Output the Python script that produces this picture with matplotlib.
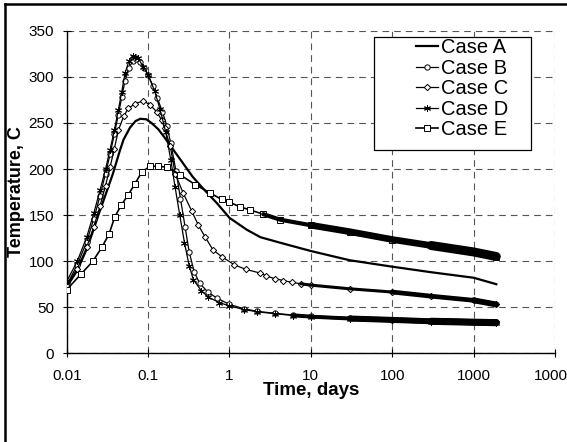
import matplotlib.pyplot as plt
from matplotlib.lines import Line2D
from matplotlib.patches import Rectangle
import numpy as np

plt.rcParams['font.family'] = ['Liberation Sans', 'DejaVu Sans']

# time in days, temperature in C
time_a = [0.01, 0.0135, 0.018, 0.0245, 0.03, 0.037, 0.045, 0.05, 0.06, 0.07, 0.08,
          0.095, 0.11, 0.134, 0.16, 0.2, 0.27, 0.35, 0.45, 0.7, 1.0, 1.64, 2.4, 4.2,
          10, 30, 100, 300, 1000, 1900]
temp_a = [72, 90, 115, 150, 172, 195, 220, 232, 245, 252, 254.5,
          254, 250, 243, 234, 222, 206, 192, 181, 163, 147, 134, 126, 120,
          111, 101, 94, 88, 82, 75]

time_b = [0.01, 0.0135, 0.0176, 0.0215, 0.0257, 0.03, 0.0341, 0.0385, 0.0431, 0.0475,
          0.0521, 0.058, 0.065, 0.072, 0.08, 0.09, 0.1, 0.115, 0.13, 0.15, 0.17, 0.19,
          0.22, 0.25, 0.285, 0.32, 0.37, 0.43, 0.55, 0.7, 1.0, 1.5, 2.2, 3.6, 6,
          10, 30, 100, 300, 1000, 1900]
temp_b = [74, 96, 121, 146, 171, 195, 216, 238, 259, 278,
          296, 310, 317, 319, 316, 310, 302, 290, 277, 262, 247, 228,
          198, 168, 137, 110, 88, 76, 66, 60, 53, 48.5, 45.5, 43.5, 41.5,
          40, 38, 36.5, 35, 34, 33.5]

time_c = [0.01, 0.0135, 0.0176, 0.0215, 0.0257, 0.03, 0.0341, 0.0385, 0.0431, 0.05,
          0.0573, 0.07, 0.0875, 0.106, 0.128, 0.147, 0.16, 0.187, 0.215, 0.27, 0.345,
          0.415, 0.5, 0.63, 0.8, 1.15, 1.6, 2.4, 2.83, 3.6, 4.6, 5.8, 7.5,
          10, 30, 100, 300, 1000, 1900]
temp_c = [73, 92, 115, 137, 160, 182, 202, 222, 242, 257,
          266, 271, 274, 269.5, 262, 253, 244, 225, 195, 174, 154,
          139, 126.5, 112, 105, 96, 91, 87, 84, 81, 79, 77, 75.5,
          74, 70, 66.5, 62, 57.5, 53]

time_d = [0.01, 0.0135, 0.0176, 0.0215, 0.0257, 0.03, 0.0341, 0.0385, 0.0431, 0.0475,
          0.0521, 0.058, 0.0648, 0.07, 0.076, 0.087, 0.1, 0.12, 0.14, 0.165, 0.19,
          0.215, 0.245, 0.28, 0.32, 0.36, 0.45, 0.55, 0.75, 1.0, 1.5, 2.2, 3.6, 6,
          10, 30, 100, 300, 1000, 1900]
temp_d = [78, 100, 126, 152, 177, 200, 221, 242, 264, 284,
          304, 317, 323, 322, 320, 311, 302, 285, 265, 240, 210,
          180, 150, 120, 95, 80, 68, 61, 55, 51.5, 47.5, 45, 43, 41,
          39.5, 37.5, 36, 34.5, 33.5, 33]

time_e = [0.01, 0.015, 0.021, 0.027, 0.033, 0.039, 0.047, 0.057, 0.069, 0.084,
          0.106, 0.134, 0.17, 0.25, 0.38, 0.58, 0.8, 1.0, 1.34, 1.8, 2.6, 4.2,
          10, 30, 100, 300, 1000, 1900]
temp_e = [69, 86, 100, 115, 129, 148, 161, 172, 184, 197,
          203, 203, 202, 193.5, 183, 174, 167, 164, 159, 155.5, 151, 145,
          139, 132, 123.5, 117, 110, 105]

x_ticks = [0.01, 0.1, 1, 10, 100, 1000, 10000]
x_tick_labels = ['0.01', '0.1', '1', '10', '100', '1000', '10000']
y_ticks = [0, 50, 100, 150, 200, 250, 300, 350]

W, H = 567, 442
fig = plt.figure(figsize=(W / 100, H / 100), dpi=100)
ax = fig.add_axes([66.7 / W, 1 - 353.3 / H, (555 - 66.7) / W, (353.3 - 30.8) / H])

ax.plot(time_a, temp_a, color='black', lw=1.6, label='Case A', zorder=3)

# marked cases: label, t, T, marker, marker size, line width,
# and (start time, width) steps of the band the dense late markers form
marked = [
    ('Case B', time_b, temp_b, 'o', 3.8, 0.9, [(5, 2.5), (25, 4.0), (200, 4.8)]),
    ('Case C', time_c, temp_c, 'D', 3.2, 0.9, [(7, 2.2), (40, 3.4), (400, 4.2)]),
    ('Case D', time_d, temp_d, (6, 2, 0), 5.0, 0.9, [(5, 2.5), (25, 4.0), (200, 4.8)]),
    ('Case E', time_e, temp_e, 's', 4.2, 1.2, [(2.6, 3.0), (8, 4.8), (150, 6.5)]),
]
for label, t, T, marker, ms, lw, bands in marked:
    ax.plot(t, T, color='black', lw=lw, marker=marker, ms=ms, mfc='white',
            mec='black', mew=0.7, label=label, zorder=3)
    t = np.asarray(t)
    T = np.asarray(T)
    for start, band_lw in bands:
        band = t >= start
        ax.plot(t[band], T[band], color='black', lw=band_lw,
                solid_capstyle='round', zorder=3)

ax.set_xscale('log')
ax.set_xlim(0.01, 10000)
ax.set_ylim(0, 350)
ax.set_xticks(x_ticks)
ax.set_xticklabels(x_tick_labels)
ax.xaxis.set_minor_locator(plt.NullLocator())
ax.set_yticks(y_ticks)

ax.set_axisbelow(True)
ax.grid(True, color='#555555', lw=0.8, linestyle=(0, (6, 4.5)))
for side in ['top', 'right']:
    ax.spines[side].set_visible(False)
for side in ['left', 'bottom']:
    ax.spines[side].set_linewidth(1.0)
ax.tick_params(axis='both', direction='inout', length=6, width=0.8, labelsize=11)
ax.tick_params(axis='x', pad=8)
ax.tick_params(axis='y', pad=6)

fig.text(311 / W, 1 - 382 / H, 'Time, days', ha='center', va='top',
         fontsize=13.5, fontweight='bold')
fig.text(16.5 / W, 1 - 192 / H, 'Temperature, C', ha='center', va='center',
         rotation=90, fontsize=13, fontweight='bold')

# legend box
ax.add_patch(Rectangle((374 / W, 1 - 150 / H), (531 - 374) / W, (150 - 37) / H,
                       transform=fig.transFigure, facecolor='white', edgecolor='black',
                       lw=0.9, zorder=4, clip_on=False))
leg = ax.legend(loc='upper left', bbox_to_anchor=(416 / W, 1 - 38 / H),
                bbox_transform=fig.transFigure, frameon=False, fontsize=14.5,
                handlelength=1.1, handletextpad=0.15, labelspacing=0.08,
                borderpad=0, borderaxespad=0, numpoints=1)
leg.set_zorder(5)

# chart area border
fig.add_artist(Line2D([5 / W, 1], [1 - 4 / H, 1 - 4 / H], color='black', lw=1.8))
fig.add_artist(Line2D([5 / W, 5 / W], [0, 1 - 4 / H], color='black', lw=1.8))

fig.savefig('out.png', dpi=100)
